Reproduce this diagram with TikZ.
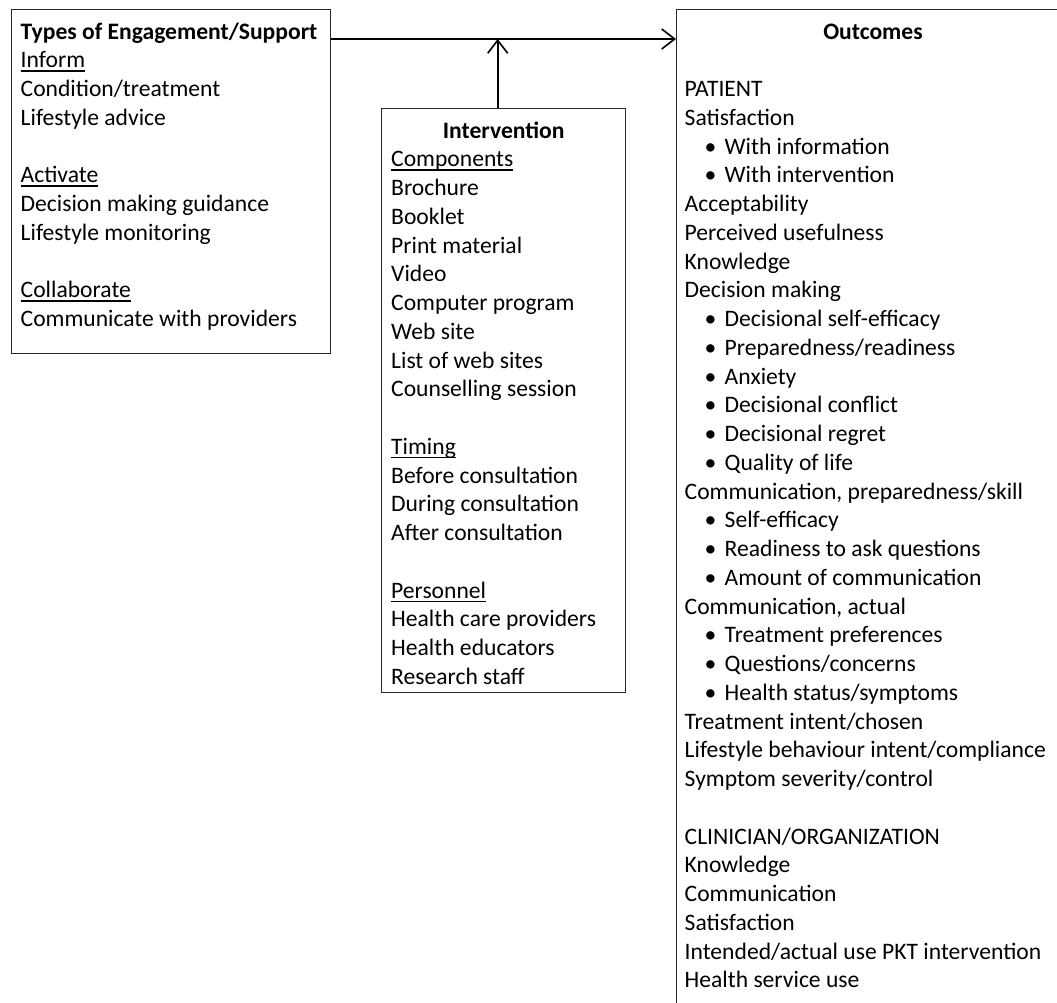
\documentclass[tikz,border=0pt]{standalone}
\usepackage{fontspec}
\setmainfont{Carlito}
\usetikzlibrary{arrows.meta}
\definecolor{linec}{RGB}{40,40,40}
\newcommand\myul[1]{\setbox0=\hbox{#1}\rlap{\rule[-4pt]{\wd0}{1.3pt}}\box0}
\newcommand\colm[1]{\vtop{\baselineskip=28.75pt\lineskiplimit=-1000pt\halign{##\hfil\cr#1\crcr}}}
\newcommand\bitem[1]{\hskip20pt\hbox to 20pt{\textbullet\hfil}#1}
\begin{document}
\begin{tikzpicture}[x=1pt,y=-1pt,
  font=\fontsize{23.6}{28.75}\selectfont,
  box/.style={draw=linec, line width=1.4pt, inner sep=0pt, anchor=north west},
  txt/.style={inner sep=0pt, anchor=base west, text=black},
  arr/.style={draw=black, line width=1.6pt, -{Straight Barb[length=13pt,width=20pt,line width=1.6pt]}}]
\clip (0,0) rectangle (1057,1002);
\node[box, minimum width=319pt, minimum height=344pt] (eng) at (11,9) {};
\node[box, minimum width=244pt, minimum height=584pt] (int) at (381,108) {};
\node[box, minimum width=400pt, minimum height=1020pt] (out) at (676,9) {};

\node[txt] (engtxt) at ([xshift=9.5pt,yshift=-30pt]eng.north west) {\colm{%
\textbf{Types of Engagement/Support}\cr
\myul{Inform}\cr
Condition/treatment\cr
Lifestyle advice\cr
\cr
\myul{Activate}\cr
Decision making guidance\cr
Lifestyle monitoring\cr
\cr
\myul{Collaborate}\cr
Communicate with providers}};

\node[txt, anchor=base] (inttitle) at ([yshift=-30pt]int.north) {\textbf{Intervention}};
\node[txt] (inttxt) at ([xshift=10pt,yshift=-58.75pt]int.north west) {\colm{%
\myul{Components}\cr
Brochure\cr
Booklet\cr
Print material\cr
Video\cr
Computer program\cr
Web site\cr
List of web sites\cr
Counselling session\cr
\cr
\myul{Timing}\cr
Before consultation\cr
During consultation\cr
After consultation\cr
\cr
\myul{Personnel}\cr
Health care providers\cr
Health educators\cr
Research staff}};

\node[txt, anchor=base] (outtitle) at ([xshift=197pt,yshift=-30pt]out.north west) {\textbf{Outcomes}};
\node[txt] (outtxt) at ([xshift=8.5pt,yshift=-87.5pt]out.north west) {\colm{%
PATIENT\cr
Satisfaction\cr
\bitem{With information}\cr
\bitem{With intervention}\cr
Acceptability\cr
Perceived usefulness\cr
Knowledge\cr
Decision making\cr
\bitem{Decisional self-efficacy}\cr
\bitem{Preparedness/readiness}\cr
\bitem{Anxiety}\cr
\bitem{Decisional conflict}\cr
\bitem{Decisional regret}\cr
\bitem{Quality of life}\cr
Communication, preparedness/skill\cr
\bitem{Self-efficacy}\cr
\bitem{Readiness to ask questions}\cr
\bitem{Amount of communication}\cr
Communication, actual\cr
\bitem{Treatment preferences}\cr
\bitem{Questions/concerns}\cr
\bitem{Health status/symptoms}\cr
Treatment intent/chosen\cr
Lifestyle behaviour intent/compliance\cr
Symptom severity/control\cr
\cr
CLINICIAN/ORGANIZATION\cr
Knowledge\cr
Communication\cr
Satisfaction\cr
Intended/actual use PKT intervention\cr
Health service use}};

\coordinate (hl) at ([yshift=-30pt]eng.north east);
\draw[arr] (hl) -- (hl -| out.west);
\draw[arr] ([xshift=-6pt]int.north) -- ([xshift=-6pt]int.north |- hl);
\end{tikzpicture}
\end{document}
